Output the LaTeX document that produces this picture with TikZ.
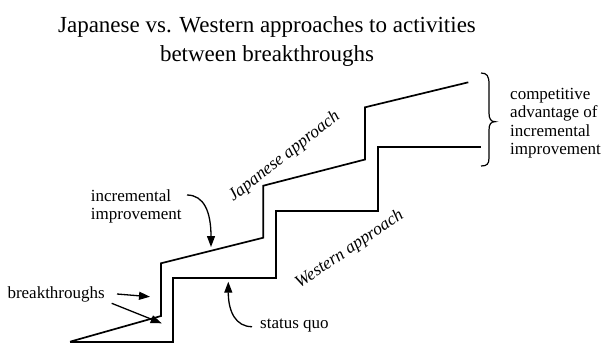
\documentclass[tikz,border=0pt]{standalone}
\usepackage{fontspec}
\setmainfont{Liberation Serif}
\usetikzlibrary{arrows.meta}
\tikzset{
  stair/.style={line width=1.7pt, line join=miter},
  lbl/.style={inner sep=0pt, font=\fontsize{17}{18.5}\selectfont, align=left},
  slant/.style={inner sep=0pt, font=\fontsize{17.5}{18.5}\selectfont\itshape},
  pointer/.style={line width=1.3pt, -{Triangle[length=11pt,width=8pt]}},
  ttl/.style={inner sep=0pt, font=\fontsize{23}{28.5}\selectfont, align=center}
}
\begin{document}
\begin{tikzpicture}[x=1pt,y=-1pt]
\useasboundingbox (0,0) rectangle (605,360);

% title (base anchor of a multi-line node sits on its last line)
\node[ttl, anchor=base] (title) at (267,61) {Japanese vs. Western approaches to activities\\between breakthroughs};

% Japanese approach: sloped treads (continuous improvement) between risers
\draw[stair] (70,341.7) -- (161,316) -- (161,263.3) -- (263.3,237.7) -- (263.3,185.7)
  -- (365,159.5) -- (365,107.3) -- (468.3,82.3);
% Western approach: flat treads between breakthroughs
\draw[stair] (70,341.7) -- (172.7,341.7) -- (172.7,277.7) -- (275.7,277.7) -- (275.7,210.7)
  -- (377.7,210.7) -- (377.7,146.7) -- (481,146.7);

% curve labels
\node[slant, anchor=base, rotate=38] (jap) at (287,160) {Japanese approach};
\node[slant, anchor=base, rotate=34] (wes) at (352,253) {Western approach};

% brace and its label
\draw[line width=1.2pt] (481,73) .. controls (487,73) and (489,76) .. (489,84) -- (489,113)
  .. controls (489,119) and (491,121.7) .. (495,121.7)
  .. controls (491,121.7) and (489,124) .. (489,130) -- (489,158)
  .. controls (489,164) and (487,166) .. (481,166);
\node[lbl, anchor=base west] (adv) at (510,154.5) {competitive\\advantage of\\incremental\\improvement};

% incremental improvement
\node[lbl, anchor=base west] (inc) at (90.7,219.5) {incremental\\improvement};
\coordinate (incstart) at (187,195);
\coordinate (inctip) at (211,247);
\draw[pointer] (incstart) .. controls (204,195) and (211,212) .. (inctip);

% breakthroughs
\node[lbl, anchor=base west] (brk) at (7.3,298.3) {breakthroughs};
\coordinate (brkA) at (117,294);
\coordinate (brkAtip) at (150,296.7);
\coordinate (brkB) at (111.7,303.3);
\coordinate (brkBtip) at (161.7,323.3);
\draw[pointer] (brkA) -- (brkAtip);
\draw[pointer] (brkB) -- (brkBtip);

% status quo
\node[lbl, anchor=base west] (sq) at (260,328) {status quo};
\coordinate (sqstart) at (252,326.7);
\coordinate (sqtip) at (228.3,281.7);
\draw[pointer] (sqstart) .. controls (236,326.7) and (228.3,312) .. (sqtip);
\end{tikzpicture}
\end{document}
